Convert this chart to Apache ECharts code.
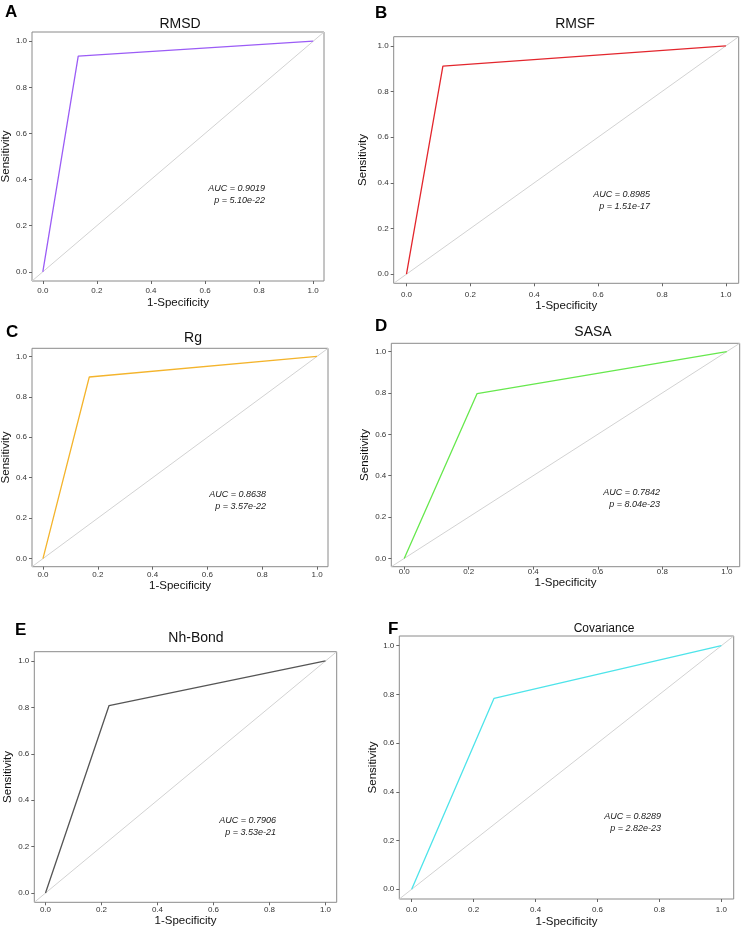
<!DOCTYPE html>
<html>
<head>
<meta charset="utf-8">
<script src="https://cdn.jsdelivr.net/npm/echarts@6/dist/echarts.min.js"></script>
<style>
  html, body { margin: 0; padding: 0; background: #fff; }
  #chart { width: 743px; height: 929px; }
</style>
</head>
<body>
<div id="chart"></div>
<script>
// data
const panelLetters = ['A', 'B', 'C', 'D', 'E', 'F']
const panelTitles = ['RMSD', 'RMSF', 'Rg', 'SASA', 'Nh-Bond', 'Covariance']
const cutFpr = [0.131, 0.114, 0.169, 0.226, 0.227, 0.266]
const cutTpr = [0.935, 0.911, 0.898, 0.797, 0.808, 0.784]
const aucValues = ['0.9019', '0.8985', '0.8638', '0.7842', '0.7906', '0.8289']
const pValues = ['5.10e-22', '1.51e-17', '3.57e-22', '8.04e-23', '3.53e-21', '2.82e-23']
const tickValues = [0, 0.2, 0.4, 0.6, 0.8, 1.0]
const lineColors = ['#9b5cf6', '#e3262d', '#f4b42c', '#66e84d', '#555555', '#4ee4ea']

// axis range (R style 4% extension)
const AX_MIN = -0.04
const AX_MAX = 1.04

// layout of each panel, in px
const layout = [
  { box: [32, 32, 292, 249], title: [180, 25, 14], letter: [5, 4], labelMargin: 6, nameGap: 16, yGap: 18, auc: [265, 182] },
  { box: [393.7, 36.7, 345, 246.6], title: [575, 25, 14], letter: [375, 5], labelMargin: 7, nameGap: 17, yGap: 25, auc: [650, 188] },
  { box: [32, 348.3, 296, 218.4], title: [193, 339, 14], letter: [6, 324], labelMargin: 4, nameGap: 13, yGap: 18, auc: [266, 488] },
  { box: [391.3, 343.3, 348.4, 223.4], title: [593, 333, 14], letter: [375, 318], labelMargin: 1, nameGap: 10, yGap: 20, auc: [660, 486] },
  { box: [34.3, 651.7, 302.4, 250.6], title: [196, 639, 14], letter: [15, 622], labelMargin: 3, nameGap: 13, yGap: 18, auc: [276, 814] },
  { box: [399.3, 636, 334.4, 263], title: [604, 629, 12], letter: [388, 621], labelMargin: 7, nameGap: 17, yGap: 16, auc: [661, 810] },
]

const FONT = 'Liberation Sans, Arial, sans-serif'

const grid = []
const xAxis = []
const yAxis = []
const series = []
const title = []
const graphic = []

panelTitles.forEach((name, i) => {
  const L = layout[i]
  const [left, top, width, height] = L.box
  grid.push({
    left, top, width, height,
    show: true,
    borderColor: '#8a8a8a',
    borderWidth: 1,
    backgroundColor: 'transparent',
    containLabel: false,
    outerBoundsMode: 'none',
  })
  const axisCommon = {
    type: 'value',
    gridIndex: i,
    min: AX_MIN,
    max: AX_MAX,
    axisLine: { show: false, onZero: false },
    splitLine: { show: false },
    axisTick: {
      show: true,
      customValues: tickValues,
      length: 3,
      lineStyle: { color: '#666', width: 1 },
    },
    nameLocation: 'middle',
    nameTextStyle: { fontFamily: FONT, fontSize: 11.5, color: '#111' },
  }
  xAxis.push({
    ...axisCommon,
    position: 'bottom',
    name: '1-Specificity',
    nameGap: L.nameGap,
    axisLabel: {
      customValues: tickValues,
      formatter: (v) => v.toFixed(1),
      fontFamily: FONT,
      fontSize: 8,
      color: '#333',
      margin: L.labelMargin,
    },
  })
  yAxis.push({
    ...axisCommon,
    position: 'left',
    name: 'Sensitivity',
    nameGap: L.yGap,
    axisLabel: {
      customValues: tickValues,
      formatter: (v) => v.toFixed(1),
      fontFamily: FONT,
      fontSize: 8,
      color: '#333',
      margin: 5,
    },
  })
  series.push({
    type: 'line',
    xAxisIndex: i,
    yAxisIndex: i,
    data: [[AX_MIN, AX_MIN], [AX_MAX, AX_MAX]],
    symbol: 'none',
    silent: true,
    lineStyle: { color: '#d2d2d2', width: 1 },
    z: 1,
  })
  series.push({
    type: 'line',
    xAxisIndex: i,
    yAxisIndex: i,
    data: [[0, 0], [cutFpr[i], cutTpr[i]], [1, 1]],
    symbol: 'none',
    silent: true,
    lineStyle: { color: lineColors[i], width: 1.3 },
    z: 2,
  })
  title.push({
    text: name,
    left: L.title[0],
    top: L.title[1] - L.title[2] * 0.55,
    textAlign: 'center',
    padding: 0,
    textStyle: { fontFamily: FONT, fontSize: L.title[2], fontWeight: 'normal', color: '#111' },
  })
  title.push({
    text: panelLetters[i],
    left: L.letter[0],
    top: L.letter[1],
    padding: 0,
    textStyle: { fontFamily: FONT, fontSize: 17, fontWeight: 'bold', color: '#000' },
  })
  graphic.push({
    type: 'text',
    x: L.auc[0],
    y: L.auc[1],
    silent: true,
    style: {
      text: 'AUC = ' + aucValues[i] + '\np = ' + pValues[i],
      align: 'right',
      verticalAlign: 'top',
      fontFamily: FONT,
      fontSize: 9,
      fontStyle: 'italic',
      lineHeight: 12,
      fill: '#222',
    },
  })
})

const chart = echarts.init(document.getElementById('chart'), null, { renderer: 'canvas' })
chart.setOption({
  animation: false,
  backgroundColor: '#fff',
  title,
  grid,
  xAxis,
  yAxis,
  series,
  graphic,
})
</script>
</body>
</html>
